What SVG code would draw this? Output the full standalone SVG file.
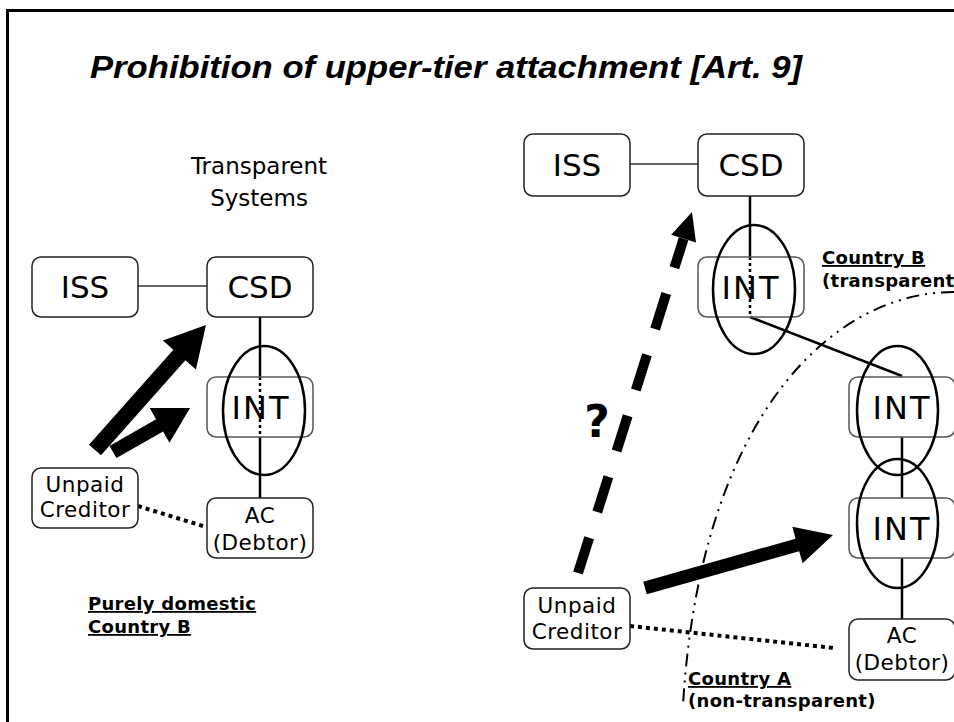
<svg xmlns="http://www.w3.org/2000/svg" width="954" height="722" viewBox="0 0 954 722">
<style>
.box{fill:#fff;stroke:#222;stroke-width:1.5}
.boxl{fill:none;stroke:#555;stroke-width:1.5}
.big{font-family:"DejaVu Sans",Verdana,sans-serif;font-size:31px;fill:#000;text-anchor:middle}
.int{font-family:"DejaVu Sans",Verdana,sans-serif;font-size:32px;fill:#000;text-anchor:middle;letter-spacing:2px}
.sm{font-family:"DejaVu Sans",Verdana,sans-serif;font-size:21.5px;fill:#000;text-anchor:middle;letter-spacing:0.5px}
.lbl{font-family:"DejaVu Sans",Verdana,sans-serif;font-size:18px;font-weight:bold;fill:#000;letter-spacing:0.3px}
.u{text-decoration:underline}
.ell{fill:none;stroke:#000;stroke-width:2.5}
.ln{fill:none;stroke:#000;stroke-width:2.5}
.thin{fill:none;stroke:#333;stroke-width:1.5}
.dot{fill:none;stroke:#000;stroke-width:2.5;stroke-dasharray:3 3}
.dotk{fill:none;stroke:#000;stroke-width:4;stroke-dasharray:4 4}
.arr{fill:#000;stroke:none}
</style>
<rect x="0" y="0" width="954" height="722" fill="#fff"/>
<rect x="7.5" y="10.5" width="960" height="730" fill="none" stroke="#000" stroke-width="3"/>
<text x="446" y="78" font-family="'Liberation Sans',Arial,sans-serif" font-size="31" font-weight="bold" font-style="italic" text-anchor="middle" textLength="712" lengthAdjust="spacingAndGlyphs">Prohibition of upper-tier attachment [Art. 9]</text>

<g id="label-transparent">
<text x="259" y="174" font-family="'DejaVu Sans',Verdana,sans-serif" font-size="23" text-anchor="middle">Transparent</text>
<text x="259" y="206" font-family="'DejaVu Sans',Verdana,sans-serif" font-size="23" text-anchor="middle">Systems</text>
</g>

<g id="connectors">
<line class="thin" x1="138" y1="286" x2="207" y2="286"/>
<line class="ln" x1="260" y1="317" x2="260" y2="377"/>
<line class="dot" x1="260" y1="377" x2="260" y2="437"/>
<line class="ln" x1="260" y1="437" x2="260" y2="498"/>
<line class="dotk" x1="138" y1="506" x2="206" y2="527"/>
<line class="thin" x1="630" y1="164" x2="698" y2="164"/>
<line class="ln" x1="750" y1="196" x2="750" y2="257"/>
<line class="dot" x1="750" y1="257" x2="750" y2="317"/>
<line class="ln" x1="750" y1="317" x2="902" y2="376"/>
<line class="ln" x1="902" y1="437" x2="902" y2="498"/>
<line class="ln" x1="902" y1="558" x2="902" y2="619"/>
<line class="dotk" x1="630" y1="626" x2="834" y2="648"/>
<path d="M954 292 C830 292 700 420 683 705" fill="none" stroke="#000" stroke-width="2" stroke-dasharray="13 6 2 6 2 6"/>
<polygon class="arr" points="101,455.3 185.4,360.3 195.9,369.6 206,325 162.9,340.4 173.4,349.7 89,444.7"/>
<polygon class="arr" points="116.5,458.1 163.1,431.5 169.5,442.8 190,408 149.7,408 156.1,419.3 109.5,445.9"/>
<polygon class="arr" points="646.8,594.3 799.2,551.3 802.6,563.3 833,535 792.3,526.7 795.6,538.7 643.2,581.7"/>
<path d="M578 573 L683.6 238.7" fill="none" stroke="#000" stroke-width="10" stroke-dasharray="37 27"/>
<polygon class="arr" points="692,212 696,242.6 671.2,234.8"/>
</g>

<g id="iss-left"><rect class="box" x="32" y="257" width="106" height="60" rx="9"/><text class="big" x="85" y="298">ISS</text></g>
<g id="csd-left"><rect class="box" x="207" y="257" width="106" height="60" rx="9"/><text class="big" x="260" y="298">CSD</text></g>
<g id="int-left"><rect class="boxl" x="207" y="377" width="106" height="60" rx="9"/><text class="int" x="261" y="419">INT</text><ellipse class="ell" cx="264" cy="410.5" rx="41" ry="64.5"/></g>
<g id="ac-left"><rect class="box" x="207" y="498" width="106" height="60" rx="9"/><text class="sm" x="260" y="523">AC</text><text class="sm" x="260" y="550">(Debtor)</text></g>
<g id="creditor-left"><rect class="box" x="32" y="468" width="106" height="60" rx="9"/><text class="sm" x="85" y="492">Unpaid</text><text class="sm" x="85" y="517">Creditor</text></g>
<g id="label-domestic"><text class="lbl u" x="88" y="610">Purely domestic</text><text class="lbl u" x="88" y="633">Country B</text></g>

<g id="iss-right"><rect class="box" x="524" y="134" width="106" height="62" rx="9"/><text class="big" x="577" y="176">ISS</text></g>
<g id="csd-right"><rect class="box" x="698" y="134" width="106" height="62" rx="9"/><text class="big" x="751" y="176">CSD</text></g>
<g id="int-right-top"><rect class="boxl" x="698" y="257" width="106" height="60" rx="9"/><text class="int" x="751" y="299">INT</text><ellipse class="ell" cx="754" cy="289.5" rx="41" ry="64.5"/></g>
<g id="int-right-1"><rect class="boxl" x="849" y="377" width="106" height="60" rx="9"/><text class="int" x="902" y="419">INT</text><ellipse class="ell" cx="897.5" cy="410.5" rx="40.5" ry="64.5"/></g>
<g id="int-right-2"><rect class="boxl" x="849" y="498" width="106" height="60" rx="9"/><text class="int" x="902" y="540">INT</text><ellipse class="ell" cx="897.5" cy="523.5" rx="40.5" ry="64.5"/></g>
<g id="ac-right"><rect class="box" x="849" y="619" width="106" height="61" rx="9"/><text class="sm" x="902" y="643">AC</text><text class="sm" x="902" y="670">(Debtor)</text></g>
<g id="creditor-right"><rect class="box" x="524" y="588" width="106" height="61" rx="9"/><text class="sm" x="577" y="613">Unpaid</text><text class="sm" x="577" y="639">Creditor</text></g>
<g id="label-country-b"><text class="lbl u" x="822" y="264">Country B</text><text class="lbl" x="822" y="287">(transparent</text></g>
<g id="label-country-a"><text class="lbl u" x="688" y="685">Country A</text><text class="lbl" x="688" y="707">(non-transparent)</text></g>
<text x="597" y="437" font-family="'DejaVu Sans',Verdana,sans-serif" font-size="44" font-weight="bold" text-anchor="middle">?</text>
</svg>
